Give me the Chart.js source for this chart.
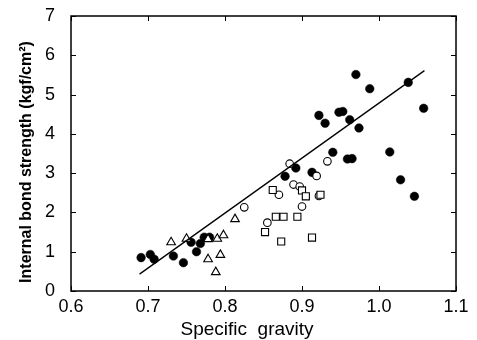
<!DOCTYPE html>
<html><head><meta charset="utf-8">
<script src="https://cdn.jsdelivr.net/npm/chart.js@4.4.0/dist/chart.umd.min.js"></script>
<style>html,body{margin:0;padding:0;background:#fff}#wrap{width:477px;height:340px}</style>
</head><body><div id="wrap"><canvas id="c" width="477" height="340"></canvas></div>
<script>
const xTitle = "Specific\u00a0\u00a0gravity";
const yTitle = "Internal bond strength (kgf/cm\u00b2)";
const xTicks = [0.6, 0.7, 0.8, 0.9, 1.0, 1.1];
const yTicks = [0, 1, 2, 3, 4, 5, 6, 7];

const filledX = [0.691,0.703,0.708,0.733,0.746,0.756,0.763,0.768,0.773,0.780,0.878,0.892,0.913,0.922,0.930,0.940,0.948,0.953,0.959,0.965,0.962,0.970,0.974,0.988,1.014,1.028,1.038,1.046,1.058];
const filledY = [0.85,0.93,0.81,0.89,0.72,1.24,1.00,1.21,1.37,1.37,2.92,3.13,3.02,4.47,4.27,3.53,4.55,4.57,3.36,3.37,4.36,5.51,4.15,5.15,3.54,2.83,5.31,2.41,4.65];

const openCircleX = [0.825,0.855,0.870,0.884,0.889,0.897,0.900,0.919,0.922,0.933];
const openCircleY = [2.13,1.74,2.45,3.24,2.71,2.66,2.15,2.93,2.42,3.30];

const squareX = [0.852,0.862,0.866,0.873,0.876,0.894,0.900,0.905,0.913,0.924];
const squareY = [1.50,2.57,1.89,1.26,1.89,1.89,2.56,2.41,1.36,2.45];

const triangleX = [0.730,0.750,0.778,0.778,0.788,0.790,0.794,0.798,0.813];
const triangleY = [1.24,1.33,1.32,0.81,0.48,1.33,0.92,1.42,1.83];

const lineX = [0.689, 1.059];
const lineY = [0.43, 5.61];

const pts = (xs, ys) => xs.map((v, i) => ({x: v, y: ys[i]}));

const framePlugin = {
  id: 'frame',
  afterDraw(chart) {
    const {ctx, chartArea: {left, right, top, bottom}, scales: {x, y}} = chart;
    ctx.save();
    ctx.strokeStyle = '#000';
    ctx.lineWidth = 1.5;
    ctx.strokeRect(left, top, right - left, bottom - top);
    ctx.lineWidth = 1;
    ctx.beginPath();
    x.ticks.forEach(t => {
      const px = Math.round(x.getPixelForValue(t.value)) + 0.5;
      ctx.moveTo(px, bottom); ctx.lineTo(px, bottom - 5);
      ctx.moveTo(px, top); ctx.lineTo(px, top + 5);
    });
    y.ticks.forEach(t => {
      const py = Math.round(y.getPixelForValue(t.value)) + 0.5;
      ctx.moveTo(left, py); ctx.lineTo(left + 5, py);
      ctx.moveTo(right, py); ctx.lineTo(right - 5, py);
    });
    ctx.stroke();
    // titles
    ctx.fillStyle = '#000';
    ctx.textAlign = 'center';
    ctx.textBaseline = 'middle';
    ctx.font = '19px "Liberation Sans", Arial, sans-serif';
    ctx.fillText(xTitle, 247, 330);
    ctx.translate(27, 162);
    ctx.rotate(-Math.PI / 2);
    ctx.font = 'bold 16px "Liberation Sans", Arial, sans-serif';
    ctx.fillText(yTitle, 0, 0);
    ctx.restore();
  }
};

new Chart(document.getElementById('c'), {
  type: 'scatter',
  data: {
    datasets: [
      {label: 'line', type: 'line', data: pts(lineX, lineY), showLine: true, borderColor: '#000', borderWidth: 1.3, pointRadius: 0, fill: false},
      {label: 'triangles', data: pts(triangleX, triangleY), pointStyle: 'triangle', pointRadius: 5, backgroundColor: '#fff', borderColor: '#000', borderWidth: 1.1},
      {label: 'squares', data: pts(squareX, squareY), pointStyle: 'rect', pointRadius: 5, backgroundColor: '#fff', borderColor: '#000', borderWidth: 1.1},
      {label: 'open', data: pts(openCircleX, openCircleY), pointStyle: 'circle', pointRadius: 3.8, backgroundColor: '#fff', borderColor: '#000', borderWidth: 1.1},
      {label: 'filled', data: pts(filledX, filledY), pointStyle: 'circle', pointRadius: 4.3, backgroundColor: '#000', borderColor: '#000', borderWidth: 0.5}
    ]
  },
  options: {
    responsive: false,
    animation: false,
    devicePixelRatio: 1,
    layout: {padding: {left: 0, right: 21, top: 16, bottom: 0}},
    plugins: {legend: {display: false}, tooltip: {enabled: false}},
    scales: {
      x: {
        type: 'linear', min: 0.6, max: 1.1,
        afterBuildTicks: s => { s.ticks = xTicks.map(v => ({value: v})); },
        ticks: {callback: v => v.toFixed(1), color: '#000', font: {size: 18, family: '"Liberation Sans", Arial, sans-serif'}, padding: 5, maxRotation: 0},
        grid: {display: false, drawTicks: false},
        border: {display: false},
        afterFit: s => { s.height = 49; s.paddingRight = 0; s.paddingLeft = 0; }
      },
      y: {
        type: 'linear', min: 0, max: 7,
        afterBuildTicks: s => { s.ticks = yTicks.map(v => ({value: v})); },
        ticks: {callback: v => String(v), color: '#000', font: {size: 18, family: '"Liberation Sans", Arial, sans-serif'}, padding: 16},
        grid: {display: false, drawTicks: false},
        border: {display: false},
        afterFit: s => { s.width = 71; s.paddingTop = 0; s.paddingBottom = 0; }
      }
    }
  },
  plugins: [framePlugin]
});
</script>
</body></html>
